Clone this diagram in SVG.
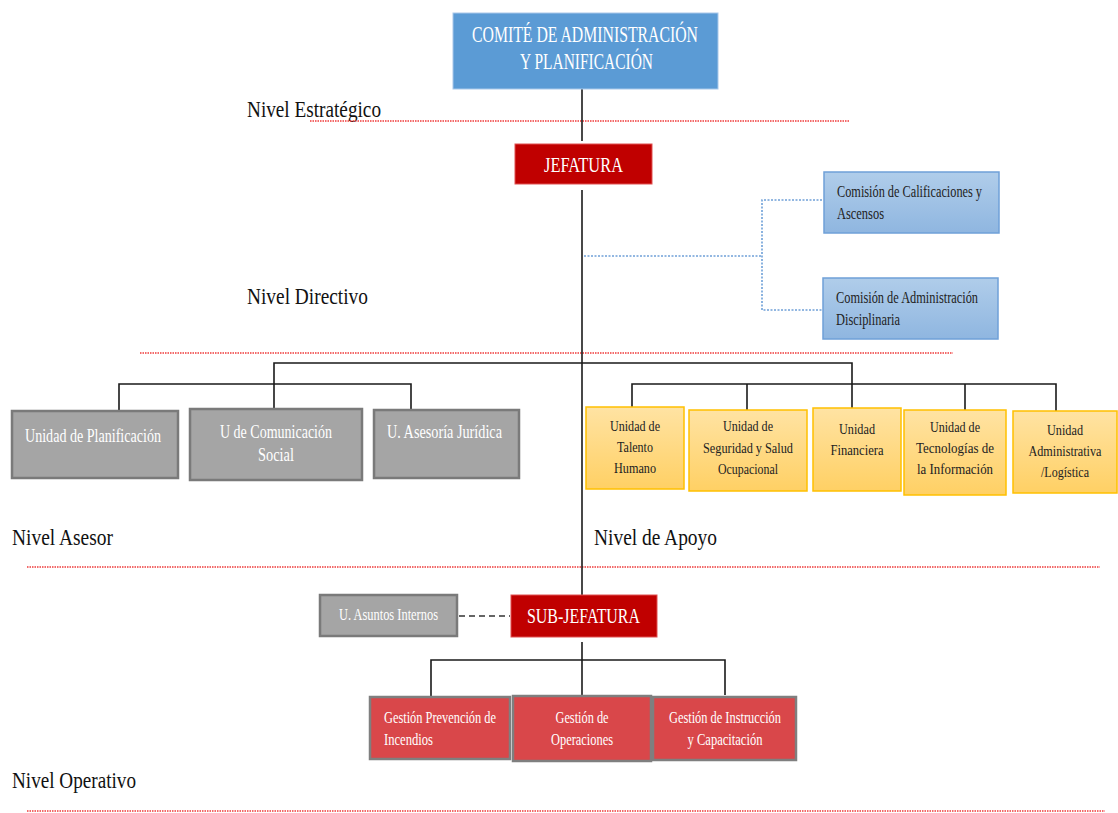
<svg xmlns="http://www.w3.org/2000/svg" width="1118" height="813" viewBox="0 0 1118 813" font-family="'Liberation Serif', 'DejaVu Serif', serif">
<defs>
<linearGradient id="gBlue" x1="0" y1="0" x2="0" y2="1"><stop offset="0" stop-color="#b0cdea"/><stop offset="1" stop-color="#8fb6e0"/></linearGradient>
<linearGradient id="gOrange" x1="0" y1="0" x2="0" y2="1"><stop offset="0" stop-color="#ffe3a3"/><stop offset="1" stop-color="#ffd064"/></linearGradient>
</defs>
<style>
.lvl{font-size:23px;fill:#111;}
.w{fill:#fff;}
.k{fill:#222;}
.red{stroke:#f03a3a;stroke-width:1.6;stroke-dasharray:1.5 1;fill:none;}
.con{stroke:#1a1a1a;stroke-width:1.6;fill:none;}
.blu{stroke:#6fa0d8;stroke-width:1.6;stroke-dasharray:2 1.5;fill:none;}
.gray{fill:#a5a5a5;stroke:#7a7a7a;stroke-width:2.5;}
.org{fill:url(#gOrange);stroke:#ffc000;stroke-width:1.5;}
.rd{fill:#d9474a;stroke:#7f7f7f;stroke-width:2.5;}
</style>
<rect width="1118" height="813" fill="#fff"/>
<g id="levels">
<text class="lvl" x="247" y="117" textLength="134" lengthAdjust="spacingAndGlyphs">Nivel Estratégico</text>
<line class="red" x1="310" y1="121" x2="850" y2="121"/>
<text class="lvl" x="247" y="304" textLength="121" lengthAdjust="spacingAndGlyphs">Nivel Directivo</text>
<line class="red" x1="140" y1="353" x2="953" y2="353"/>
<text class="lvl" x="12" y="545" textLength="101" lengthAdjust="spacingAndGlyphs">Nivel Asesor</text>
<text class="lvl" x="594" y="545" textLength="123" lengthAdjust="spacingAndGlyphs">Nivel de Apoyo</text>
<line class="red" x1="27" y1="567" x2="1100" y2="567"/>
<text class="lvl" x="12" y="788" textLength="124" lengthAdjust="spacingAndGlyphs">Nivel Operativo</text>
<line class="red" x1="27" y1="811" x2="1105" y2="811"/>
</g>
<g id="connectors">
<line class="con" x1="582" y1="89" x2="582" y2="141"/>
<line class="con" x1="582" y1="190" x2="582" y2="595"/>
<polyline class="blu" points="584,256 762,256"/>
<polyline class="blu" points="822,200 762,200 762,310 822,310"/>
<polyline class="con" points="582,363 274,363 274,409"/>
<polyline class="con" points="582,363 852,363 852,408"/>
<polyline class="con" points="119,411 119,384 411,384 411,410"/>
<polyline class="con" points="632,407 632,384 1056,384 1056,411"/>
<line class="con" x1="747" y1="384" x2="747" y2="410"/>
<line class="con" x1="965" y1="384" x2="965" y2="410"/>
<line x1="459" y1="616" x2="510" y2="616" stroke="#333" stroke-width="1.6" stroke-dasharray="6 4"/>
<line class="con" x1="582" y1="642" x2="582" y2="696"/>
<polyline class="con" points="431,697 431,660 725,660 725,695"/>
</g>
<g id="comite">
<rect x="453" y="13" width="265" height="76" fill="#5b9bd5" stroke="#a9c8ea" stroke-width="1"/>
<text class="w" x="472" y="42" font-size="23" textLength="226" lengthAdjust="spacingAndGlyphs">COMITÉ DE ADMINISTRACIÓN</text>
<text class="w" x="520" y="69" font-size="23" textLength="133" lengthAdjust="spacingAndGlyphs">Y PLANIFICACIÓN</text>
</g>
<g id="jefatura">
<rect x="515" y="144" width="137" height="40" fill="#c00000" stroke="#e05050" stroke-width="1"/>
<text class="w" x="544" y="172" font-size="20" textLength="79" lengthAdjust="spacingAndGlyphs">JEFATURA</text>
</g>
<g id="comision1">
<rect x="824" y="172" width="175" height="61" fill="url(#gBlue)" stroke="#6fa0d8" stroke-width="1.5"/>
<text class="k" x="837" y="197" font-size="16" textLength="145" lengthAdjust="spacingAndGlyphs">Comisión de Calificaciones y</text>
<text class="k" x="837" y="219" font-size="16" textLength="47" lengthAdjust="spacingAndGlyphs">Ascensos</text>
</g>
<g id="comision2">
<rect x="823" y="278" width="175" height="61" fill="url(#gBlue)" stroke="#6fa0d8" stroke-width="1.5"/>
<text class="k" x="836" y="303" font-size="16" textLength="142" lengthAdjust="spacingAndGlyphs">Comisión de Administración</text>
<text class="k" x="836" y="325" font-size="16" textLength="64" lengthAdjust="spacingAndGlyphs">Disciplinaria</text>
</g>
<g id="planificacion">
<rect class="gray" x="12" y="411" width="166" height="67"/>
<text class="w" x="25" y="442" font-size="18" textLength="136" lengthAdjust="spacingAndGlyphs">Unidad de Planificación</text>
</g>
<g id="comunicacion">
<rect class="gray" x="190" y="409" width="172" height="71"/>
<text class="w" x="220" y="438" font-size="18" textLength="112" lengthAdjust="spacingAndGlyphs">U de Comunicación</text>
<text class="w" x="276" y="461" font-size="18" text-anchor="middle" textLength="36" lengthAdjust="spacingAndGlyphs">Social</text>
</g>
<g id="juridica">
<rect class="gray" x="374" y="410" width="145" height="68"/>
<text class="w" x="387" y="438" font-size="18" textLength="115" lengthAdjust="spacingAndGlyphs">U. Asesoría Jurídica</text>
</g>
<g id="talento">
<rect class="org" x="586" y="407" width="98" height="82"/>
<text class="k" x="635" y="431" font-size="15" text-anchor="middle" textLength="50" lengthAdjust="spacingAndGlyphs">Unidad de</text>
<text class="k" x="635" y="452" font-size="15" text-anchor="middle" textLength="36" lengthAdjust="spacingAndGlyphs">Talento</text>
<text class="k" x="635" y="473" font-size="15" text-anchor="middle" textLength="42" lengthAdjust="spacingAndGlyphs">Humano</text>
</g>
<g id="seguridad">
<rect class="org" x="689" y="410" width="118" height="81"/>
<text class="k" x="748" y="431" font-size="15" text-anchor="middle" textLength="50" lengthAdjust="spacingAndGlyphs">Unidad de</text>
<text class="k" x="748" y="453" font-size="15" text-anchor="middle" textLength="90" lengthAdjust="spacingAndGlyphs">Seguridad y Salud</text>
<text class="k" x="748" y="474" font-size="15" text-anchor="middle" textLength="60" lengthAdjust="spacingAndGlyphs">Ocupacional</text>
</g>
<g id="financiera">
<rect class="org" x="813" y="408" width="88" height="83"/>
<text class="k" x="857" y="434" font-size="15" text-anchor="middle" textLength="36" lengthAdjust="spacingAndGlyphs">Unidad</text>
<text class="k" x="857" y="455" font-size="15" text-anchor="middle" textLength="53" lengthAdjust="spacingAndGlyphs">Financiera</text>
</g>
<g id="tecnologias">
<rect class="org" x="904" y="410" width="102" height="85"/>
<text class="k" x="955" y="432" font-size="15" text-anchor="middle" textLength="50" lengthAdjust="spacingAndGlyphs">Unidad de</text>
<text class="k" x="955" y="453" font-size="15" text-anchor="middle" textLength="78" lengthAdjust="spacingAndGlyphs">Tecnologías de</text>
<text class="k" x="955" y="474" font-size="15" text-anchor="middle" textLength="76" lengthAdjust="spacingAndGlyphs">la Información</text>
</g>
<g id="administrativa">
<rect class="org" x="1013" y="411" width="104" height="82"/>
<text class="k" x="1065" y="435" font-size="15" text-anchor="middle" textLength="36" lengthAdjust="spacingAndGlyphs">Unidad</text>
<text class="k" x="1065" y="456" font-size="15" text-anchor="middle" textLength="73" lengthAdjust="spacingAndGlyphs">Administrativa</text>
<text class="k" x="1065" y="477" font-size="15" text-anchor="middle" textLength="48" lengthAdjust="spacingAndGlyphs">/Logística</text>
</g>
<g id="asuntos">
<rect class="gray" x="320" y="595" width="137" height="41"/>
<text class="w" x="339" y="620" font-size="16" textLength="99" lengthAdjust="spacingAndGlyphs">U. Asuntos Internos</text>
</g>
<g id="subjefatura">
<rect x="511" y="595" width="146" height="42" fill="#c00000" stroke="#e05050" stroke-width="1"/>
<text class="w" x="527" y="623" font-size="20" textLength="113" lengthAdjust="spacingAndGlyphs">SUB-JEFATURA</text>
</g>
<g id="prevencion">
<rect class="rd" x="370" y="697" width="140" height="62"/>
<text class="w" x="384" y="723" font-size="16" textLength="112" lengthAdjust="spacingAndGlyphs">Gestión Prevención de</text>
<text class="w" x="384" y="745" font-size="16" textLength="49" lengthAdjust="spacingAndGlyphs">Incendios</text>
</g>
<g id="operaciones">
<rect class="rd" x="513" y="696" width="138" height="65"/>
<text class="w" x="582" y="723" font-size="16" text-anchor="middle" textLength="53" lengthAdjust="spacingAndGlyphs">Gestión de</text>
<text class="w" x="582" y="745" font-size="16" text-anchor="middle" textLength="62" lengthAdjust="spacingAndGlyphs">Operaciones</text>
</g>
<g id="instruccion">
<rect class="rd" x="653" y="697" width="143" height="63"/>
<text class="w" x="669" y="723" font-size="16" textLength="112" lengthAdjust="spacingAndGlyphs">Gestión de Instrucción</text>
<text class="w" x="725" y="745" font-size="16" text-anchor="middle" textLength="75" lengthAdjust="spacingAndGlyphs">y Capacitación</text>
</g>
</svg>
